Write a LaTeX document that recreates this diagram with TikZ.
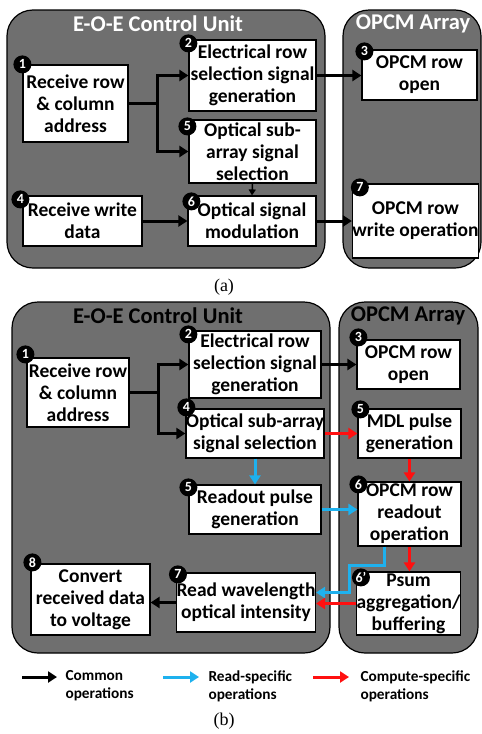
\documentclass[tikz,border=0pt]{standalone}
\usepackage{fontspec}
\setmainfont{Carlito}
\newfontfamily\capfont{Liberation Serif}
\usetikzlibrary{arrows.meta}
\definecolor{unitgray}{HTML}{6F6F6F}
\definecolor{readblue}{HTML}{1EB1EE}
\definecolor{compred}{HTML}{FF1010}
\tikzset{
  unit/.style={draw=black, fill=unitgray, line width=1.2pt, rounded corners=26pt},
  title/.style={font=\bfseries\fontsize{22.5}{24}\selectfont},
  blk/.style={draw=black, fill=white, line width=1.2pt, align=center, inner sep=0pt,
    font=\bfseries\fontsize{19.5}{22}\selectfont},
  badge/.style={circle, fill=black, text=white, inner sep=0pt, minimum size=18pt,
    font=\bfseries\fontsize{14}{14}\selectfont},
  flow/.style={line width=3pt, -{Triangle[length=9pt,width=11pt]}},
  thinflow/.style={line width=1.5pt, -{Triangle[length=6pt,width=7pt]}},
  legtxt/.style={anchor=west, align=left, font=\bfseries\fontsize{15.3}{18}\selectfont},
  captxt/.style={font=\capfont\fontsize{18}{18}\selectfont}
}
\begin{document}
\begin{tikzpicture}[x=1pt,y=-1pt]
\useasboundingbox (0,0) rectangle (482,734);
% (a) write
\draw[unit] (7,10) rectangle (325,268);
\draw[unit] (343,10) rectangle (481,268);
\node[title,text=white] (ta) at (158,24) {E-O-E Control Unit};
\node[title,text=white] (tb) at (413,24) {OPCM Array};
\node[blk,minimum width=105pt,minimum height=77pt] (a1) at (75.5,103.5) {Receive row\\\& column\\address};
\node[blk,minimum width=127pt,minimum height=71pt] (a2) at (252.5,75.5) {Electrical row\\selection signal\\generation};
\node[blk,minimum width=127pt,minimum height=63pt] (a5) at (252.5,151.5) {Optical sub-\\array signal\\selection};
\node[blk,minimum width=119pt,minimum height=50pt] (a4) at (82.5,221) {Receive write\\data};
\node[blk,minimum width=128pt,minimum height=50pt] (a6) at (252,221) {Optical signal\\modulation};
\node[blk,minimum width=115pt,minimum height=50pt] (a3) at (419.5,75) {OPCM row\\open};
\node[blk,minimum width=123pt,minimum height=74pt] (a7) at (415.5,221) {OPCM row\\write operation};
\node[badge] (na1) at (a1.north west) {1};
\node[badge] (na2) at ([shift={(0,4)}]a2.north west) {2};
\node[badge] (na5) at ([shift={(-1,7)}]a5.north west) {5};
\node[badge] (na4) at ([shift={(-2,4)}]a4.north west) {4};
\node[badge] (na6) at ([shift={(4,6)}]a6.north west) {6};
\node[badge] (na3) at ([shift={(3,2)}]a3.north west) {3};
\node[badge] (na7) at ([shift={(8,4)}]a7.north west) {7};
\draw[flow] (a1.east) -- ++(29,0) coordinate (asplit) |- (a2.west);
\draw[flow] (asplit) |- (a5.west);
\draw[thinflow] (a5.south) -- (a6.north);
\draw[flow] (a4.east) -- (a6.west);
\draw[flow] (a2.east) -- (a2.east -| a3.west);
\draw[flow] (a6.east) -- (a7.west);
\node[captxt] (capa) at (224,287) {(a)};
% (b) read / compute
\draw[unit] (12,302) rectangle (330,653);
\draw[unit] (339,302) rectangle (478,653);
\node[title] (tc) at (158,316) {E-O-E Control Unit};
\node[title] (td) at (408,316) {OPCM Array};
\node[blk,minimum width=102pt,minimum height=69pt] (b1) at (78,392.5) {Receive row\\\& column\\address};
\node[blk,minimum width=132pt,minimum height=67pt] (b2) at (255,364.5) {Electrical row\\selection signal\\generation};
\node[blk,minimum width=132pt,minimum height=49pt] (b4) at (255,433.5) {Optical sub-array\\signal selection};
\node[blk,minimum width=132pt,minimum height=49pt] (b5) at (255,509.5) {Readout pulse\\generation};
\node[blk,minimum width=136pt,minimum height=59pt] (b7) at (246,602.5) {Read wavelength\\optical intensity};
\node[blk,minimum width=119pt,minimum height=71pt] (b8) at (90.5,599.5) {Convert\\received data\\to voltage};
\node[blk,minimum width=103pt,minimum height=49pt] (b3) at (408.5,364.5) {OPCM row\\open};
\node[blk,minimum width=103pt,minimum height=49pt] (bm) at (409.5,433.5) {MDL pulse\\generation};
\node[blk,minimum width=103pt,minimum height=64pt] (b6) at (409.5,514) {OPCM row\\readout\\operation};
\node[blk,minimum width=103pt,minimum height=63pt] (b6p) at (408.5,603.5) {Psum\\aggregation/\\buffering};
\node[badge] (nb1) at ([shift={(-1,-3)}]b1.north west) {1};
\node[badge] (nb2) at ([shift={(0,4)}]b2.north west) {2};
\node[badge] (nb4) at ([shift={(1,-1)}]b4.north west) {4};
\node[badge] (nb5) at ([shift={(0,3)}]b5.north west) {5};
\node[badge] (nb7) at ([shift={(2,2)}]b7.north west) {7};
\node[badge] (nb8) at ([shift={(2,-1)}]b8.north west) {8};
\node[badge] (nb3) at ([shift={(2,-2)}]b3.north west) {3};
\node[badge] (nbm) at ([shift={(3,1)}]bm.north west) {5};
\node[badge] (nb6) at ([shift={(1,3)}]b6.north west) {6};
\node[badge] (nb6p) at ([shift={(5,6)}]b6p.north west) {6'};
\draw[flow] (b1.east) -- ++(29,0) coordinate (bsplit) |- (b2.west);
\draw[flow] (bsplit) |- (b4.west);
\draw[flow] (b2.east) -- (b3.west);
\draw[flow,compred] (b4.east) -- (bm.west);
\draw[flow,readblue] (b4.south) -- (b5.north);
\draw[flow,readblue] (b5.east) -- (b5.east -| b6.west);
\draw[flow,compred] (bm.south) -- (b6.north);
\draw[flow,compred] (b6.south) -- (b6.south |- b6p.north);
\draw[flow,readblue] ([xshift=-25pt]b6.south) |- (349,565) |- ([yshift=10pt]b7.east);
\draw[flow,compred] (b6p.west) -- (b6p.west -| b7.east);
\draw[flow] (b7.west) -- (b7.west -| b8.east);
% legend
\coordinate (lg1) at (22,677);
\coordinate (lg2) at (163,677);
\coordinate (lg3) at (313,677);
\draw[flow] (lg1) -- ++(35,0);
\draw[flow,readblue] (lg2) -- ++(36,0);
\draw[flow,compred] (lg3) -- ++(36,0);
\node[legtxt] (lt1) at (62,686) {Common\\operations};
\node[legtxt] (lt2) at (205,686) {Read-specific\\operations};
\node[legtxt] (lt3) at (357,686) {Compute-specific\\operations};
\node[captxt] (capb) at (224,721) {(b)};
\end{tikzpicture}
\end{document}
